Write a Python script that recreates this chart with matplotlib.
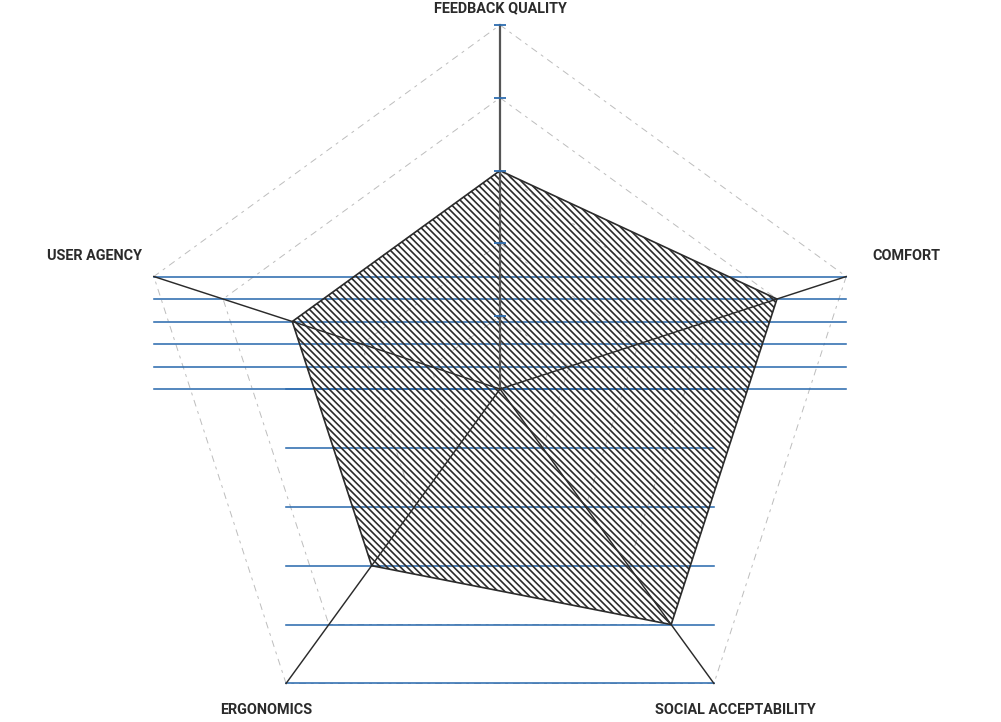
#!/usr/bin/env python
# -*- coding: utf-8 -*-
import numpy as np
import matplotlib
matplotlib.use('Agg')
import matplotlib.pyplot as plt

CATEGORIES = ['FEEDBACK QUALITY', 'COMFORT', 'SOCIAL ACCEPTABILITY',
              'ERGONOMICS', 'USER AGENCY']
VALUES = [0.6, 0.8, 0.8, 0.6, 0.6]
LEVELS = [0.2, 0.4, 0.6, 0.8, 1.0]
BAND_LEVELS = [0.0, 0.2, 0.4, 0.6, 0.8, 1.0]

# label offsets from the axis end, in pixels
LABEL_OFFSETS = [(0, 17), (60, 21), (21, -27), (-20, -27), (-59, 21)]

BLUE = '#2e6db0'
DARK = '#2b2b2b'

DPI = 100
R_PX = 364.0


def _vertices(vals):
    ang = np.deg2rad(90 - 72 * np.arange(len(vals)))
    vals = np.asarray(vals, dtype=float)
    return vals * np.cos(ang), vals * np.sin(ang)


def _plot():
    plt.rcParams['font.family'] = ['Roboto', 'DejaVu Sans']
    plt.rcParams['hatch.linewidth'] = 1.2
    fig = plt.figure(figsize=(1001 / DPI, 722 / DPI), dpi=DPI)
    ax = fig.add_axes([0, 0, 1, 1])
    ax.axis('off')
    ax.set_xlim(-500 / R_PX, 501 / R_PX)
    ax.set_ylim(-333 / R_PX, 389 / R_PX)

    n = len(CATEGORIES)
    ox, oy = _vertices(np.ones(n))

    # dashed grid pentagons
    for lvl in LEVELS:
        ax.plot(np.append(ox, ox[0]) * lvl, np.append(oy, oy[0]) * lvl,
                color='#bdbdbd', lw=0.7, ls=(0, (7, 5, 3, 5)), zorder=1)

    # horizontal blue bands (upper and lower side axes)
    for lvl in BAND_LEVELS:
        ax.plot([ox[4], ox[1]], [oy[1] * lvl, oy[1] * lvl],
                color=BLUE, lw=1.15, zorder=2)
        ax.plot([ox[3], ox[2]], [oy[2] * lvl, oy[2] * lvl],
                color=BLUE, lw=1.15, zorder=2)

    # data polygon
    vx, vy = _vertices(VALUES)
    ax.fill(vx, vy, facecolor='none', edgecolor=DARK, hatch='\\' * 5,
            lw=1.2, zorder=3)

    # spokes
    for i in range(n):
        ax.plot([0, ox[i]], [0, oy[i]], color='#555555' if i == 0 else DARK,
                lw=1.6 if i == 0 else 1.05, zorder=4)
    ax.plot(np.zeros(len(LEVELS)), LEVELS, ls='none', marker='_',
            markersize=8.5, markeredgewidth=1.3, color=BLUE, zorder=5)

    # axis labels
    for i, name in enumerate(CATEGORIES):
        ax.annotate(name, (ox[i], oy[i]), xytext=LABEL_OFFSETS[i],
                    textcoords='offset pixels', ha='center', va='center',
                    fontsize=10.4, fontweight='bold', color=DARK)

    fig.savefig('out.png', dpi=DPI)


if __name__ == '__main__':
    _plot()
